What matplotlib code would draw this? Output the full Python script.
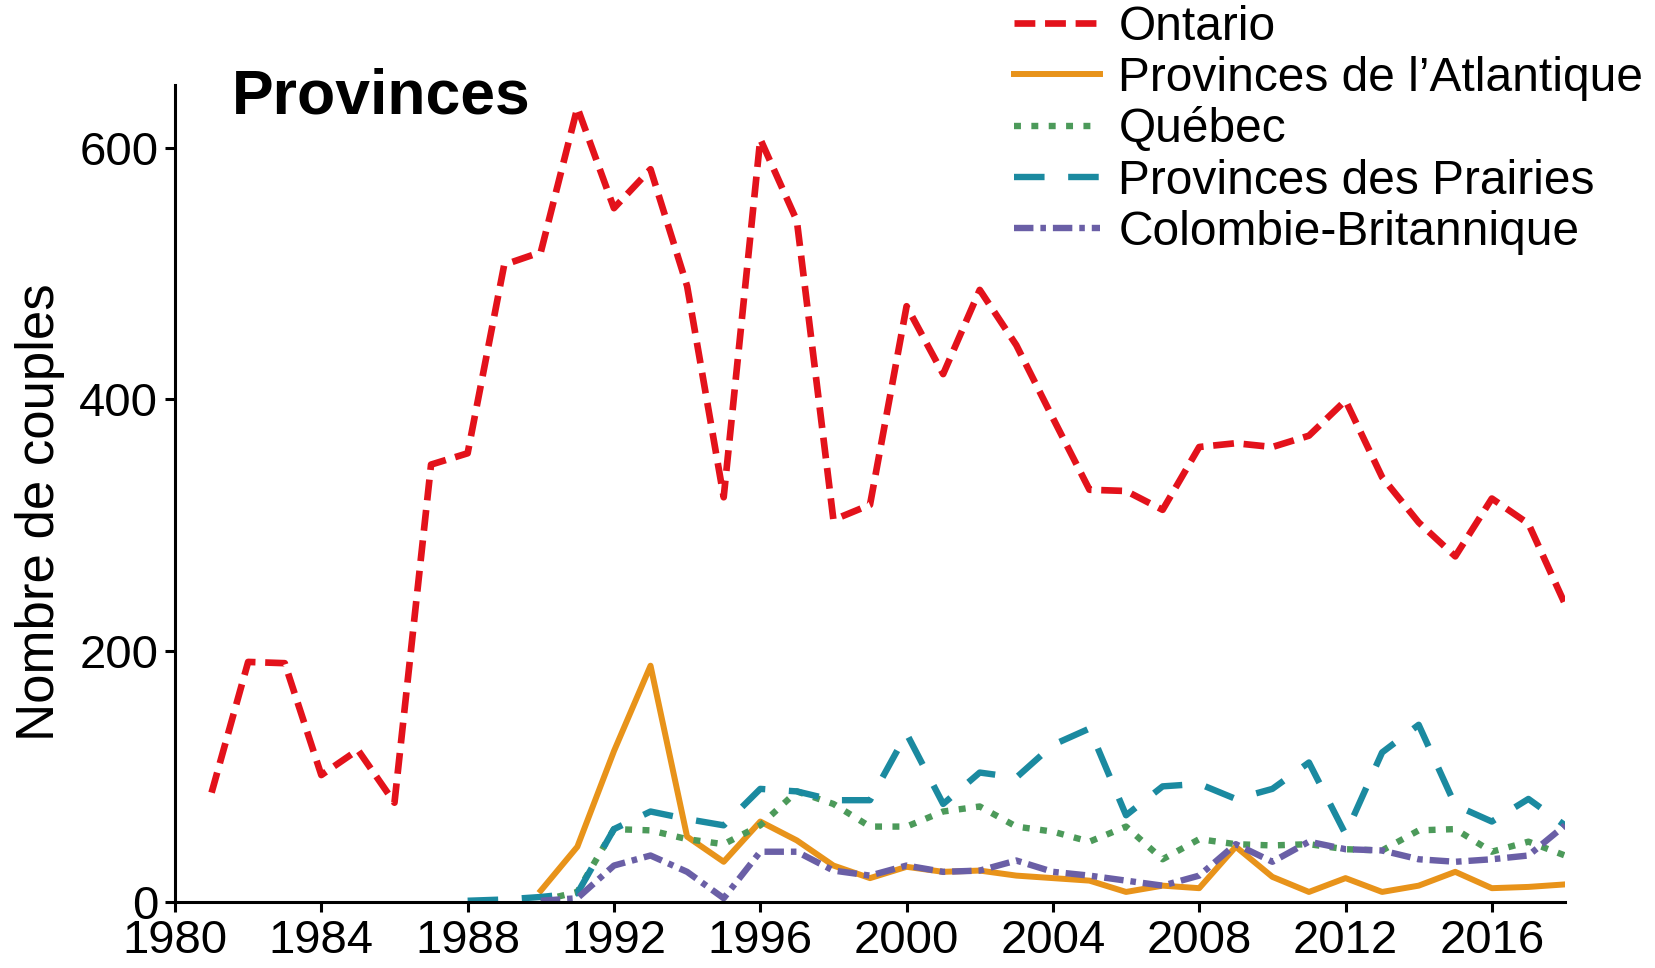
import numpy as np
import matplotlib
matplotlib.use("Agg")
import matplotlib.pyplot as plt

nan = np.nan
years = list(range(1981, 2019))

ontario = [87, 191, 190, 101, 121, 79, 348, 357, 507, 517, 632, 552, 583, 490, 322,
           607, 542, 304, 316, 474, 420, 487, 443, 385, 328, 327, 312, 362, 365, 362,
           371, 399, 338, 302, 275, 321, 301, 237]
atlantique = [nan]*9 + [9, 44, 120, 188, 52, 32, 64, 49, 29, 19, 28, 24, 25, 21, 19, 17,
                        8, 13, 11, 44, 20, 8, 19, 8, 13, 24, 11, 12, 14]
quebec = [nan]*9 + [1, 8, 58, 57, 50, 46, 61, 88, 78, 60, 60, 72, 76, 60, 56, 48,
                    60, 34, 50, 46, 45, 46, 42, 41, 57, 58, 40, 48, 37]
prairies = [nan]*7 + [1, 2, 4, 7, 58, 72, 66, 61, 90, 88, 81, 81, 134, 78, 103, 99, 125, 138,
                      69, 92, 94, 82, 90, 111, 54, 119, 141, 77, 64, 82, 61]
colombie = [nan]*9 + [1, 3, 29, 37, 24, 3, 40, 40, 25, 21, 29, 24, 25, 33, 24, 21,
                      17, 13, 21, 46, 32, 48, 42, 41, 34, 32, 34, 37, 61]

labels = ["Ontario", "Provinces de l\u2019Atlantique", "Québec",
          "Provinces des Prairies", "Colombie-Britannique"]
xticks = list(range(1980, 2017, 4))
yticks = [0, 200, 400, 600]

plt.rcParams['font.family'] = ['Liberation Sans', 'DejaVu Sans']
plt.rcParams['lines.scale_dashes'] = False

fig = plt.figure(figsize=(16.55, 9.68), dpi=100)
ax = fig.add_axes([175/1655, 66/968, 1390/1655, 817/968])

series = [ontario, atlantique, quebec, prairies, colombie]
styles = [
    dict(color='#e3121b', lw=4.8, dashes=(15, 7)),
    dict(color='#e8931a', lw=4.3),
    dict(color='#4c9a5a', lw=4.6, dashes=(5, 7.5)),
    dict(color='#1b8aa0', lw=4.6, dashes=(22, 17)),
    dict(color='#6a5fa6', lw=4.6, dashes=(14, 5, 4, 5)),
]
for vals, lab, st in zip(series, labels, styles):
    ax.plot(years, vals, label=lab, solid_joinstyle='round', dash_joinstyle='round',
            dash_capstyle='butt', **st)

ax.set_xlim(1980, 2018)
ax.set_ylim(0, 650)
ax.set_xticks(xticks)
ax.set_yticks(yticks)
for s in ['top', 'right']:
    ax.spines[s].set_visible(False)
for s in ['left', 'bottom']:
    ax.spines[s].set_linewidth(2.2)
ax.tick_params(axis='both', length=7.5, width=2.2, labelsize=34, direction='out')
ax.tick_params(axis='x', pad=5)
ax.tick_params(axis='y', pad=4.5)

fig.text(40/1655, 1 - 512/968, "Nombre de couples", rotation=90, ha='center',
         va='center', fontsize=38)
fig.text(232/1655, 1 - 113/968, "Provinces", fontsize=45, fontweight='bold',
         ha='left', va='baseline')

leg = fig.legend(loc='upper left', bbox_to_anchor=(1014/1655, 0.995), frameon=False,
                 fontsize=34.5, handlelength=1.8, handletextpad=0.38, labelspacing=0.13,
                 borderpad=0, borderaxespad=0)

fig.savefig("out.png", dpi=100)
